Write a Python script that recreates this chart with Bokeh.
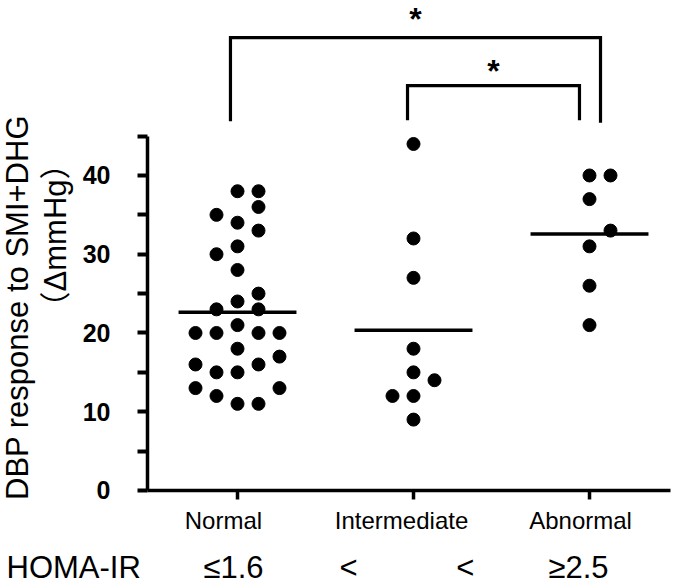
import numpy as np
from bokeh.plotting import figure
from bokeh.models import Range1d, FixedTicker, Label
from bokeh.embed import file_html
from bokeh.resources import INLINE

# ---------------- data ----------------
groups = ["Normal", "Intermediate", "Abnormal"]
homa_title = "HOMA-IR"
homa_labels = ["≤1.6", "<", "<", "≥2.5"]

normal_vals = [38, 38, 36, 35, 34, 33, 31, 30, 28, 25, 24, 23, 23, 21,
               20, 20, 20, 20, 18, 17, 16, 16, 15, 15, 13, 13, 12, 11, 11]
normal_cols = [0, 1, 1, -1, 0, 1, 0, -1, 0, 1, 0, -1, 1, 0,
               -2, -1, 1, 2, 0, 2, -2, 1, -1, 0, -2, 2, -1, 0, 1]

intermediate_vals = [44, 32, 27, 18, 15, 14, 12, 12, 9]
intermediate_cols = [0, 0, 0, 0, 0, 1, -1, 0, 0]

abnormal_vals = [40, 40, 37, 33, 31, 26, 21]
abnormal_cols = [0, 1, 0, 1, 0, 0, 0]

# significance brackets: (group a, group b, star)
brackets = [(0, 2, "*"), (1, 2, "*")]

y_major = [0, 10, 20, 30, 40]
y_minor = [5, 15, 25, 35, 45]

# ---------------- layout constants ----------------
FONT = "Liberation Sans"
FONT_CJK = "'Liberation Sans', 'Noto Sans CJK JP'"
COL_W = 0.1193          # column spacing for overlapping dots
MEAN_HALF = 0.335       # half-width of the mean line
xs_pos = [1, 2, 3]
Y_AXIS_X = 0.48864      # where the y axis is drawn (data units)
X_END = 3.46
PX_PER_Y = 7.875        # pixels per y unit

p = figure(width=680, height=584, output_backend="svg", toolbar_location=None,
           x_range=Range1d(-0.3466, 3.517), y_range=Range1d(-11.94, 62.22),
           min_border_left=0, min_border_right=0, min_border_top=0,
           min_border_bottom=0)
p.outline_line_color = None
p.xgrid.grid_line_color = None
p.ygrid.grid_line_color = None
p.background_fill_color = "white"
p.border_fill_color = "white"

# ---------------- points ----------------
all_vals = [normal_vals, intermediate_vals, abnormal_vals]
all_cols = [normal_cols, intermediate_cols, abnormal_cols]
px, py = [], []
for gi, (vals, cols) in enumerate(zip(all_vals, all_cols)):
    for v, c in zip(vals, cols):
        px.append(xs_pos[gi] + c * COL_W)
        py.append(v)
p.scatter(x=px, y=py, size=13, color="black", line_color="black")

# ---------------- means ----------------
means = [float(np.mean(v)) for v in all_vals]
p.segment(x0=[x - MEAN_HALF for x in xs_pos], x1=[x + MEAN_HALF for x in xs_pos],
          y0=means, y1=means, line_width=3.5, color="black")

# ---------------- brackets ----------------
bracket_geom = [  # (x offset a, x offset b, top, bottom a, bottom b, star top)
    (-0.04, 0.0625, 57.5, 46.9, 46.7, 62.2),
    (-0.034, -0.057, 51.4, 47.0, 47.0, 55.5),
]
for (a, b, star), (oa, ob, top, ba, bb, sy) in zip(brackets, bracket_geom):
    xa = xs_pos[a] + oa
    xb = xs_pos[b] + ob
    p.line(x=[xa, xa, xb, xb], y=[ba, top, top, bb], line_width=3.2,
           color="black", line_join="miter")
    p.add_layout(Label(x=(xa + xb) / 2, y=sy, text=star, text_align="center",
                       text_baseline="top", text_font=FONT,
                       text_font_size="32px", text_font_style="bold",
                       text_color="black"))

# ---------------- axes (drawn inside the full-canvas frame) ----------------
ya = p.yaxis[0]
ya.fixed_location = Y_AXIS_X
ya.bounds = (0, 45)
ya.ticker = FixedTicker(ticks=y_major, minor_ticks=y_minor)
ya.axis_line_width = 3.5
ya.major_tick_out = 10
ya.major_tick_in = 0
ya.minor_tick_out = 10
ya.minor_tick_in = 0
ya.major_tick_line_width = 4
ya.minor_tick_line_width = 4
ya.major_label_text_font = FONT
ya.major_label_text_font_size = "25px"
ya.major_label_text_font_style = "bold"
ya.major_label_text_color = "black"
ya.major_label_standoff = 27

# x axis: line only; category ticks drawn at the group positions below it
xa_ = p.xaxis[0]
xa_.fixed_location = 0
xa_.bounds = (Y_AXIS_X, X_END)
xa_.ticker = FixedTicker(ticks=[], minor_ticks=[])
xa_.axis_line_width = 3.5
xa_.major_tick_out = 0
xa_.major_tick_in = 0
xa_.minor_tick_out = 0
xa_.minor_tick_in = 0
tick_len = 9 / PX_PER_Y
p.segment(x0=xs_pos, x1=xs_pos, y0=[0] * 3, y1=[-tick_len] * 3,
          line_width=3.5, color="black", line_cap="butt")

# category labels
cat_x = [0.920, 1.932, 2.949]
for cx, g in zip(cat_x, groups):
    p.add_layout(Label(x=cx, y=-3.81, text=g, text_align="center",
                       text_baseline="middle", text_font=FONT,
                       text_font_size="24px", text_color="black"))

# ---------------- y axis title (two lines) ----------------
p.add_layout(Label(x=-0.25, y=23.24, text="DBP response to SMI+DHG",
                   angle=np.pi / 2, text_align="center", text_baseline="middle",
                   text_font=FONT, text_font_size="31px", text_color="black"))
p.add_layout(Label(x=-0.0341, y=32.38, text="（ΔmmHg）",
                   angle=np.pi / 2, text_align="center", text_baseline="middle",
                   text_font=FONT_CJK, text_font_size="31px", text_color="black"))

# ---------------- HOMA-IR row ----------------
homa_y = -9.78
p.add_layout(Label(x=-0.3125, y=homa_y, text=homa_title, text_align="left",
                   text_baseline="middle", text_font=FONT, text_font_size="31px",
                   text_color="black"))
homa_x = [0.977, 1.631, 2.295, 2.9375]
for hx, t in zip(homa_x, homa_labels):
    p.add_layout(Label(x=hx, y=homa_y, text=t, text_align="center",
                       text_baseline="middle", text_font=FONT,
                       text_font_size="31px", text_color="black"))

open("out.html", "w").write(file_html(p, INLINE))
